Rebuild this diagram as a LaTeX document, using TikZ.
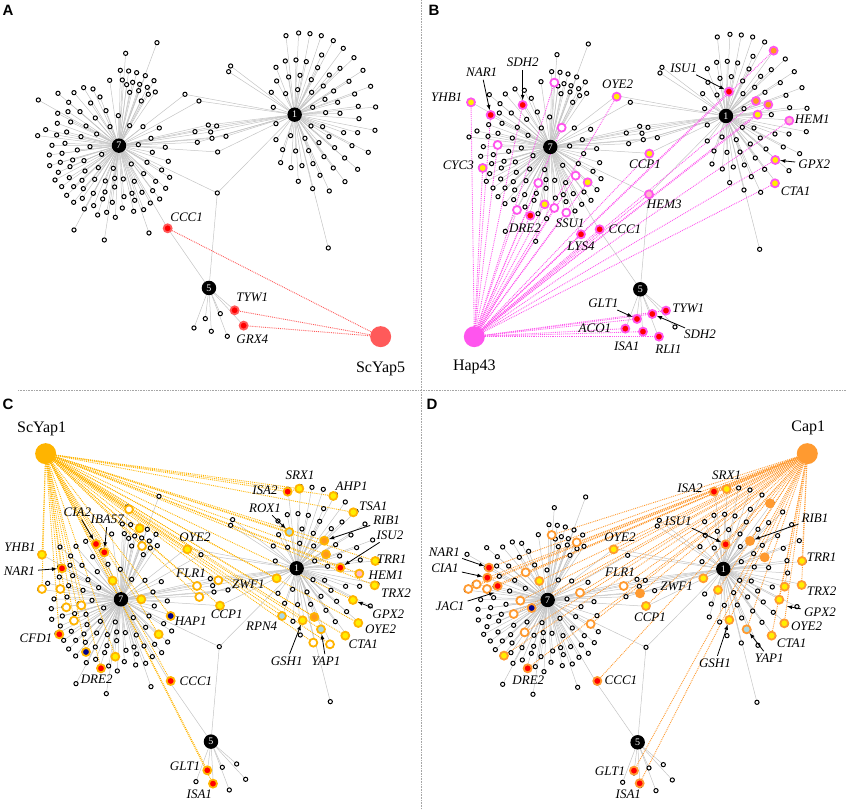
\documentclass[tikz,border=0pt]{standalone}
\usepackage{fontspec}
\setmainfont{Liberation Serif}
\setsansfont{Liberation Sans}
\usetikzlibrary{backgrounds}

\definecolor{yapred}{HTML}{FF5A5A}
\definecolor{hapmag}{HTML}{FF55EE}
\definecolor{yapgold}{HTML}{FFB400}
\definecolor{capor}{HTML}{FF9A30}
\definecolor{hityellow}{HTML}{FFEE00}
\definecolor{hitorange}{HTML}{FF9A1A}
\definecolor{hitpink}{HTML}{FFB8C8}
\definecolor{hitblue}{HTML}{A8D8E8}
\definecolor{hitnavy}{HTML}{00008B}
\definecolor{edgegray}{HTML}{C4C4C4}

\tikzset{
  sat/.style={circle, draw=black, fill=white, line width=1pt, inner sep=0pt, minimum size=4.2pt},
  hub/.style={circle, fill=black, text=white, inner sep=0pt, minimum size=14.5pt, font=\fontsize{10}{10}\selectfont},
  net/.style={draw=edgegray, line width=0.5pt},
  ring/.style={draw=black},
  hit/.style={circle, ring, fill=#1, line width=1.8pt, inner sep=0pt, minimum size=8pt},
  tf/.style={circle, fill=#1, inner sep=0pt, minimum size=21pt},
  bind/.style={draw=#1, densely dotted, line width=0.9pt},
  gene/.style={font=\fontsize{13}{13}\selectfont\itshape, inner sep=1pt},
  tfname/.style={font=\fontsize{16}{16}\selectfont, inner sep=1pt},
  pointer/.style={->, >=latex, line width=0.8pt, shorten <=2pt},
  divider/.style={draw=gray!70, densely dotted, line width=0.6pt},
  letter/.style={font=\sffamily\bfseries\fontsize{15}{15}\selectfont, inner sep=0pt}
}

% shared layout of the network (3x pixel units)
\def\sevenlist{471/128, 377/160, 361/211, 386/213, 410/218, 436/227, 329/241, 367/240, 398/247, 462/242, 380/254, 419/253, 442/262, 251/263, 279/267, 174/280, 222/278, 466/276, 445/283, 416/272, 389/277, 300/291, 115/300, 206/307, 272/309, 424/303, 318/332, 173/340, 204/335, 240/335, 355/347, 286/354, 137/389, 172/370, 212/366, 258/378, 330/380, 389/377, 429/380, 478/384, 113/407, 170/405, 200/396, 243/410, 290/402, 156/436, 195/430, 232/450, 270/440, 305/463, 415/434, 453/415, 496/442, 457/457, 148/465, 186/460, 218/480, 252/482, 295/503, 340/505, 394/492, 441/487, 505/484, 149/497, 181/487, 210/500, 175/517, 255/513, 431/521, 485/510, 165/540, 208/533, 246/541, 284/538, 316/543, 344/535, 370/537, 403/544, 509/532, 467/544, 185/560, 221/560, 344/561, 250/566, 280/580, 315/576, 372/590, 396/580, 426/577, 458/572, 497/565, 200/586, 247/595, 308/597, 479/597, 404/601, 337/607, 367/624, 431/629, 451/609, 221/607, 253/627, 281/617, 293/645, 320/637, 346/652, 401/634, 222/690, 313/720, 447/699}
\def\onelist{858/107, 896/99, 930/101, 964/107, 1000/122, 1030/145, 1062/173, 1089/211, 1112/259, 1127/321, 1125/391, 1105/457, 1073/508, 1035/545, 988/573, 938/566, 895/544, 842/488, 828/419, 856/183, 888/180, 919/185, 965/165, 828/202, 866/231, 900/226, 934/239, 953/203, 988/225, 1020/205, 1047/244, 1064/282, 1075/319, 1077/356, 1073/398, 1056/437, 1034/474, 1000/504, 960/526, 939/491, 906/497, 873/503, 848/449, 828/371, 820/322, 814/277, 830/243, 857/281, 893/269, 935/277, 970/258, 1001/273, 1013/307, 1020/340, 1031/398, 1004/443, 972/470, 926/452, 887/453, 915/415, 872/407, 933/378, 968/380, 987/410, 957/428, 938/322, 977/338, 975/298, 686/215, 692/198, 985/744}
\def\midlist{555/283, 597/303, 585/395, 625/375, 650/378, 632/396, 592/427, 636/415, 678/409, 653/456}
\def\fivelist{582/984, 616/956, 634/994, 661/941, 682/1009, 704/931, 731/977}

\newcommand{\basenet}[2]{%
\begin{scope}[shift={(#1,#2)}]
\node[hub] (h7) at (357,437) {7};
\node[hub] (h1) at (884,344) {1};
\node[hub] (h5) at (627,864) {5};
\node[sat] (jn) at (652,579) {};
\node[sat] (cc) at (503,685) {};
\foreach \x/\y [count=\i] in \sevenlist \node[sat] (s7-\i) at (\x,\y) {};
\foreach \x/\y [count=\i] in \onelist \node[sat] (s1-\i) at (\x,\y) {};
\foreach \x/\y [count=\i] in \midlist \node[sat] (sm-\i) at (\x,\y) {};
\foreach \x/\y [count=\i] in \fivelist \node[sat] (s5-\i) at (\x,\y) {};
\begin{pgfonlayer}{background}
\foreach \x/\y [count=\i] in \sevenlist \draw[net] (h7) -- (s7-\i);
\foreach \x/\y [count=\i] in \onelist \draw[net] (h1) -- (s1-\i);
\foreach \x/\y [count=\i] in \midlist \draw[net] (h7) -- (sm-\i) -- (h1);
\foreach \x/\y [count=\i] in \fivelist \draw[net] (h5) -- (s5-\i);
\draw[net] (h7) -- (jn) -- (h1) (jn) -- (h5) (h7) -- (cc) -- (h5);
\end{pgfonlayer}
\end{scope}}

% highlighted genes of each panel: name/x/y/fill
\def\hitsA{CCC1/503/685/red, TYW1/704/931/red, GRX4/731/977/red}
\def\hitsB{YHB1/138/307/hityellow, NAR1/197/345/red, SDHa/293/315/red,
  u1/388/248/white, u2/410/383/white, u3/218/435/white, CYC3/173/504/hityellow,
  u4/452/527/white, u5/488/547/hityellow, u6/340/549/white, u7/359/613/hityellow,
  u8/276/630/white, DRE2/316/647/red, u9/388/624/white, SSU1/424/638/white,
  LYS4/468/703/red, CCC1/524/688/red, OYE2/575/290/hityellow, CCP1/673/461/hityellow,
  HEM3/672/583/hitpink, u10/1046/152/hitorange, ISU1/912/275/red, u11/993/303/hitorange,
  u12/1030/314/hitorange, u13/998/344/hityellow, HEM1/1093/362/hitpink,
  GPX2/1051/480/hityellow, CTA1/1050/550/hityellow, GLT1/636/957/red, SDHb/682/942/red,
  TYW1/723/932/red, ACO1/601/986/red, ISA1/654/995/red, RLI1/702/1010/red}
\def\hitsC{u1/387/313/white, u2/419/370/hityellow, u3/426/423/white,
  CIA2/288/417/red, IBA57/313/442/red, YHB1/126/449/hityellow, NAR1/186/490/red,
  OYE2a/562/433/hityellow, u4/338/527/hityellow, u5/126/552/white, u6/181/552/white,
  FLR1/591/543/white, u7/598/576/white, u8/655/526/white, u9/199/607/white,
  u10/244/601/white, u11/424/583/hityellow, u12/222/647/white, HAP1/512/633/hitnavy,
  CFD1/178/688/red, u13/476/688/hityellow, u14/258/741/hitnavy, u15/346/755/hityellow,
  DRE2/303/790/red, CCC1/512/828/red, CCP1/660/602/hityellow, ZWF1/830/520/hityellow,
  ISA2/863/260/red, SRX1/898/251/hityellow, AHP1/1000/273/hityellow,
  TSA1/1060/322/hityellow, ROX1/868/381/hitblue, RIB1/973/407/hitorange,
  u16/978/448/hitorange, ISU2/1021/488/red, TRR1/1126/468/hityellow,
  HEM1/1078/506/hitpink, TRX2/1124/541/hityellow, GPX2/1059/585/hityellow,
  OYE2b/1075/654/hityellow, CTA1/1036/692/hityellow, RPN4/846/633/hitblue,
  GSH1/908/646/hityellow, u17/943/636/hitorange, YAP1/963/673/hitblue,
  u18/940/713/white, u19/990/718/white, GLT1/622/1096/red, ISA1/639/1136/red}
\def\hitsD{u1/380/390/white, u2/455/412/white, OYE2a/566/433/hityellow,
  NAR1/192/488/red, CIA1/187/518/red, u3/218/543/red, u4/130/552/white,
  u5/155/538/white, u6/186/552/white, u7/302/502/white, u8/343/528/hityellow,
  u9/286/587/white, u10/266/627/white, u11/320/609/hitnavy, u12/465/563/white,
  FLR1/596/543/white, u13/645/565/capor, u14/299/682/white, u15/497/657/white,
  u16/237/752/hityellow, DRE2/308/790/red, CCC1/517/828/red, CCP1/663/603/hityellow,
  ISA2/867/260/red, SRX1/905/252/hityellow, u17/1035/295/capor, ISU1/902/418/red,
  RIB1/975/408/capor, u18/1019/457/capor, TRR1/1131/468/hityellow,
  TRX2/1130/540/hityellow, u19/1079/545/hityellow, u20/1063/584/hityellow,
  OYE2b/1078/655/hityellow, CTA1/1040/692/hityellow, ZWF1/835/520/hityellow,
  u21/879/555/hityellow, GSH1/913/645/hityellow, YAP1/965/673/hitblue,
  GLT1/627/1097/red, ISA1/644/1135/red}

\begin{document}
\begin{tikzpicture}[x=1pt,y=-1pt]
\useasboundingbox (0,0) rectangle (851,810);

% dividers and panel letters
\draw[divider] (18,390) -- (846,390);
\draw[divider] (421,0) -- (421,810);
\node[letter] (pA) at (8,10) {A};
\node[letter] (pB) at (434,10) {B};
\node[letter] (pC) at (8,404) {C};
\node[letter] (pD) at (432,404) {D};

% panel A
\begin{scope}[x=0.3333pt, y=-0.3333pt, name prefix=A-, ring/.style={draw=yapred}]
\basenet{0}{0}
\node[tf=yapred] (tf) at (1142,1010) {};
\node[tfname] (ltf) at (1142,1108) {ScYap5};
\foreach \nm/\x/\y/\col in \hitsA \node[hit=\col] (\nm) at (\x,\y) {};
\begin{pgfonlayer}{background}
\foreach \nm/\x/\y/\col in \hitsA \draw[bind=yapred] (tf) -- (\nm);
\end{pgfonlayer}
\foreach \nm/\x/\y/\txt in {CCC1/560/652/CCC1, TYW1/757/893/TYW1, GRX4/757/1018/GRX4}
  \node[gene] (l\nm) at (\x,\y) {\txt};
\end{scope}

% panel B
\begin{scope}[shift={(425,0)}, x=0.3333pt, y=-0.3333pt, name prefix=B-, ring/.style={draw=hapmag}]
\basenet{19}{4}
\node[tf=hapmag] (tf) at (148,1010) {};
\node[tfname] (ltf) at (148,1100) {Hap43};
\foreach \nm/\x/\y/\col in \hitsB \node[hit=\col] (\nm) at (\x,\y) {};
\begin{pgfonlayer}{background}
\foreach \nm/\x/\y/\col in \hitsB \draw[bind=hapmag] (tf) -- (\nm);
\end{pgfonlayer}
\foreach \nm/\x/\y/\txt in {YHB1/65/293/YHB1, NAR1/170/217/NAR1, SDHa/293/187/SDH2,
  CYC3/100/497/CYC3, DRE2/300/686/DRE2, SSU1/435/670/SSU1, LYS4/468/740/LYS4,
  CCC1/600/688/CCC1, OYE2/578/253/OYE2, CCP1/660/493/CCP1, HEM3/718/614/HEM3,
  ISU1/776/205/ISU1, HEM1/1162/357/HEM1, GPX2/1168/492/GPX2, CTA1/1112/575/CTA1,
  GLT1/535/911/GLT1, SDHb/825/1003/SDH2, TYW1/790/925/TYW1, ACO1/510/986/ACO1,
  ISA1/605/1040/ISA1, RLI1/730/1048/RLI1}
  \node[gene] (l\nm) at (\x,\y) {\txt};
\foreach \nm in {NAR1, SDHa, ISU1, GPX2, GLT1, SDHb}
  \draw[pointer] (l\nm) -- (\nm);
\end{scope}

% panel C
\begin{scope}[shift={(0,405)}, x=0.3333pt, y=-0.3333pt, name prefix=C-, ring/.style={draw=yapgold}]
\basenet{6}{146}
\node[tf=yapgold] (tf) at (137,146) {};
\node[tfname] (ltf) at (125,72) {ScYap1};
\foreach \nm/\x/\y/\col in \hitsC \node[hit=\col] (\nm) at (\x,\y) {};
\begin{pgfonlayer}{background}
\foreach \nm/\x/\y/\col in \hitsC \draw[bind=yapgold] (tf) -- (\nm);
\end{pgfonlayer}
\foreach \nm/\x/\y/\txt in {CIA2/232/322/CIA2, IBA57/322/344/IBA57, YHB1/60/428/YHB1,
  NAR1/58/500/NAR1, OYE2a/585/398/OYE2, FLR1/573/506/FLR1, HAP1/572/650/HAP1,
  CFD1/108/701/CFD1, DRE2/290/823/DRE2, CCC1/588/828/CCC1, CCP1/680/628/CCP1,
  ZWF1/745/537/ZWF1, ISA2/795/255/ISA2, SRX1/900/210/SRX1, AHP1/1055/243/AHP1,
  TSA1/1120/305/TSA1, ROX1/795/310/ROX1, RIB1/1160/345/RIB1, ISU2/1170/392/ISU2,
  TRR1/1175/463/TRR1, HEM1/1158/510/HEM1, TRX2/1188/565/TRX2, GPX2/1165/628/GPX2,
  OYE2b/1142/672/OYE2, CTA1/1090/718/CTA1, RPN4/785/665/RPN4, GSH1/860/770/GSH1,
  YAP1/978/770/YAP1, GLT1/555/1085/GLT1, ISA1/598/1168/ISA1}
  \node[gene] (l\nm) at (\x,\y) {\txt};
\foreach \nm in {CIA2, IBA57, NAR1, ROX1, RIB1, ISU2, GPX2, GSH1, YAP1}
  \draw[pointer] (l\nm) -- (\nm);
\end{scope}

% panel D
\begin{scope}[shift={(425,405)}, x=0.3333pt, y=-0.3333pt, name prefix=D-, ring/.style={draw=capor}]
\basenet{11}{148}
\node[tf=capor] (tf) at (1147,146) {};
\node[tfname] (ltf) at (1150,70) {Cap1};
\foreach \nm/\x/\y/\col in \hitsD \node[hit=\col] (\nm) at (\x,\y) {};
\begin{pgfonlayer}{background}
\foreach \nm/\x/\y/\col in \hitsD \draw[bind=capor] (tf) -- (\nm);
\end{pgfonlayer}
\foreach \nm/\x/\y/\txt in {NAR1/58/442/NAR1, CIA1/60/490/CIA1, JAC1/75/605/JAC1,
  OYE2a/585/397/OYE2, FLR1/585/502/FLR1, DRE2/310/826/DRE2, CCC1/588/826/CCC1,
  CCP1/675/636/CCP1, ISA2/795/250/ISA2, SRX1/905/210/SRX1, ISU1/760/350/ISU1,
  RIB1/1170/340/RIB1, TRR1/1190/457/TRR1, TRX2/1190/560/TRX2, GPX2/1185/622/GPX2,
  OYE2b/1145/665/OYE2, CTA1/1100/715/CTA1, ZWF1/755/543/ZWF1, GSH1/870/775/GSH1,
  YAP1/1033/760/YAP1, GLT1/555/1098/GLT1, ISA1/610/1168/ISA1}
  \node[gene] (l\nm) at (\x,\y) {\txt};
\coordinate (jacpt) at (208,563);
\coordinate (gpxpt) at (1086,604);
\foreach \nm in {NAR1, CIA1, ISU1, RIB1, GSH1, YAP1}
  \draw[pointer] (l\nm) -- (\nm);
\draw[pointer] (lJAC1) -- (jacpt);
\draw[pointer] (lGPX2) -- (gpxpt);
\end{scope}
\end{tikzpicture}
\end{document}
